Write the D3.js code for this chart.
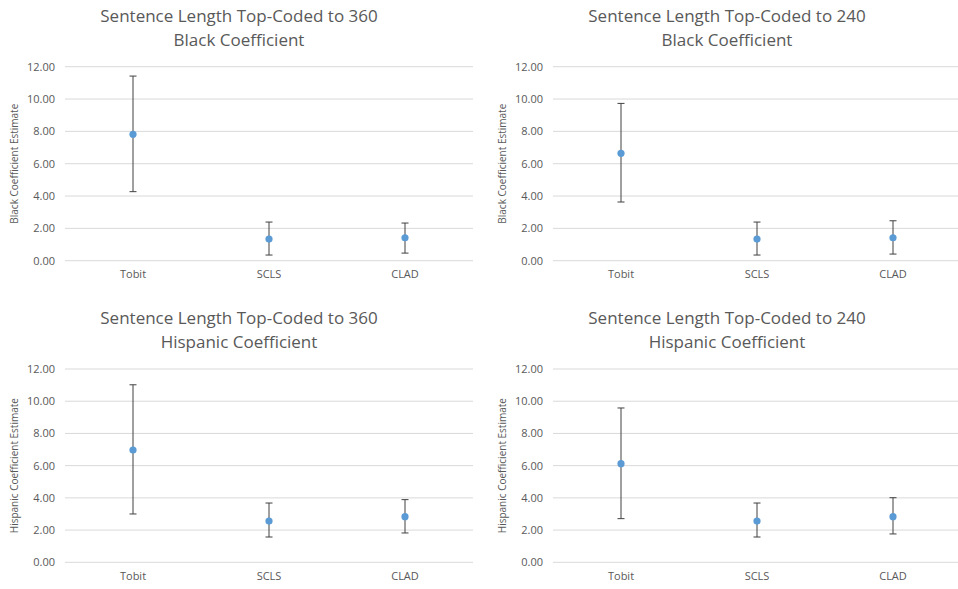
<!DOCTYPE html>
<html>
<head>
<meta charset="utf-8">
<script src="https://cdn.jsdelivr.net/npm/d3@7"></script>
<style>
  body { margin: 0; background: #fff; }
  svg text { font-family: "Open Sans", sans-serif; fill: #595959; }
</style>
</head>
<body>
<svg id="chart" width="958" height="589"></svg>
<script>
var categories = ['Tobit', 'SCLS', 'CLAD'];
var yTicks = [0, 2, 4, 6, 8, 10, 12];

// point estimate, lower and upper bound of the error bars
var black360Est = [7.82, 1.34, 1.42];
var black360Low = [4.27, 0.35, 0.47];
var black360High = [11.42, 2.39, 2.33];

var black240Est = [6.64, 1.34, 1.42];
var black240Low = [3.63, 0.35, 0.41];
var black240High = [9.73, 2.39, 2.47];

var hisp360Est = [6.97, 2.56, 2.83];
var hisp360Low = [3.00, 1.57, 1.82];
var hisp360High = [11.02, 3.68, 3.89];

var hisp240Est = [6.12, 2.56, 2.83];
var hisp240Low = [2.71, 1.57, 1.76];
var hisp240High = [9.58, 3.68, 4.01];

var panels = [
  { title: ['Sentence Length Top-Coded to 360', 'Black Coefficient'], yLabel: 'Black Coefficient Estimate',
    est: black360Est, low: black360Low, high: black360High, col: 0, row: 0 },
  { title: ['Sentence Length Top-Coded to 240', 'Black Coefficient'], yLabel: 'Black Coefficient Estimate',
    est: black240Est, low: black240Low, high: black240High, col: 1, row: 0 },
  { title: ['Sentence Length Top-Coded to 360', 'Hispanic Coefficient'], yLabel: 'Hispanic Coefficient Estimate',
    est: hisp360Est, low: hisp360Low, high: hisp360High, col: 0, row: 1 },
  { title: ['Sentence Length Top-Coded to 240', 'Hispanic Coefficient'], yLabel: 'Hispanic Coefficient Estimate',
    est: hisp240Est, low: hisp240Low, high: hisp240High, col: 1, row: 1 }
];

var svg = d3.select('#chart');

var colOffset = [0, 488];
var rowTop = [66.7, 369];
var rowBottom = [260.7, 562.3];
var rowTitle = [16, 318];

panels.forEach(function(p) {
  var ox = colOffset[p.col];
  var top = rowTop[p.row];
  var bottom = rowBottom[p.row];

  var g = svg.append('g');

  var x = d3.scaleBand()
    .domain(categories)
    .range([ox + 65, ox + 473]);

  var y = d3.scaleLinear()
    .domain([0, 12])
    .range([bottom, top]);

  // gridlines
  g.selectAll('line.grid')
    .data(yTicks)
    .enter().append('line')
    .attr('class', 'grid')
    .attr('x1', ox + 65)
    .attr('x2', ox + 473)
    .attr('y1', function(d) { return y(d); })
    .attr('y2', function(d) { return y(d); })
    .attr('stroke', '#d9d9d9')
    .attr('stroke-width', 1);

  var yAxis = g.append('g')
    .attr('transform', 'translate(' + (ox + 65) + ',0)')
    .call(d3.axisLeft(y).tickValues(yTicks).tickFormat(d3.format('.2f')).tickSize(0).tickPadding(10));
  yAxis.select('.domain').remove();
  yAxis.selectAll('text')
    .style('font-size', '11px')
    .attr('fill', '#595959');

  var xAxis = g.append('g')
    .attr('transform', 'translate(0,' + bottom + ')')
    .call(d3.axisBottom(x).tickSize(0).tickPadding(10));
  xAxis.select('.domain').remove();
  xAxis.selectAll('text')
    .style('font-size', '11px')
    .attr('fill', '#595959');

  // y axis title
  g.append('text')
    .attr('transform', 'translate(' + (ox + 18) + ',' + ((top + bottom) / 2) + ') rotate(-90)')
    .attr('text-anchor', 'middle')
    .style('font-size', '10px')
    .text(p.yLabel);

  // chart title
  g.selectAll('text.title')
    .data(p.title)
    .enter().append('text')
    .attr('class', 'title')
    .attr('x', ox + 239)
    .attr('y', function(d, i) { return rowTitle[p.row] + i * 24; })
    .attr('dy', '0.35em')
    .attr('text-anchor', 'middle')
    .style('font-size', '17px')
    .text(function(d) { return d; });

  var cx = function(i) { return x(categories[i]) + x.bandwidth() / 2; };

  var bars = g.selectAll('g.bar')
    .data(p.est)
    .enter().append('g')
    .attr('class', 'bar');

  bars.append('line')
    .attr('x1', function(d, i) { return cx(i); })
    .attr('x2', function(d, i) { return cx(i); })
    .attr('y1', function(d, i) { return y(p.low[i]); })
    .attr('y2', function(d, i) { return y(p.high[i]); })
    .attr('stroke', '#404040')
    .attr('stroke-width', 1);

  bars.append('line')
    .attr('x1', function(d, i) { return cx(i) - 3.5; })
    .attr('x2', function(d, i) { return cx(i) + 3.5; })
    .attr('y1', function(d, i) { return y(p.low[i]); })
    .attr('y2', function(d, i) { return y(p.low[i]); })
    .attr('stroke', '#404040')
    .attr('stroke-width', 1);

  bars.append('line')
    .attr('x1', function(d, i) { return cx(i) - 3.5; })
    .attr('x2', function(d, i) { return cx(i) + 3.5; })
    .attr('y1', function(d, i) { return y(p.high[i]); })
    .attr('y2', function(d, i) { return y(p.high[i]); })
    .attr('stroke', '#404040')
    .attr('stroke-width', 1);

  bars.append('circle')
    .attr('cx', function(d, i) { return cx(i); })
    .attr('cy', function(d) { return y(d); })
    .attr('r', 3.6)
    .attr('fill', '#5b9bd5');
});
</script>
</body>
</html>
